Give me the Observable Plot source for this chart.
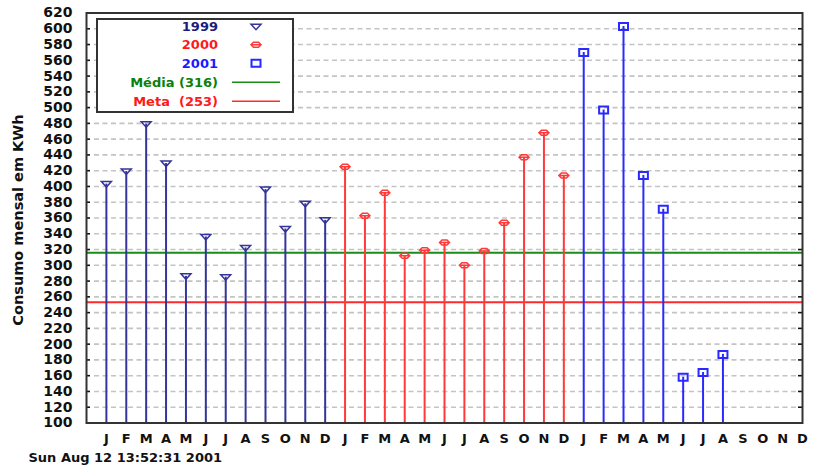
<!DOCTYPE html>
<html>
<head>
<meta charset="utf-8">
<script src="https://cdn.jsdelivr.net/npm/d3@7"></script>
<script src="https://cdn.jsdelivr.net/npm/@observablehq/plot@0.6"></script>
<style>
  html, body { margin: 0; padding: 0; background: #fff; }
  #chart { position: relative; width: 814px; height: 473px; }
  svg { font-family: "DejaVu Sans", sans-serif; }
</style>
</head>
<body>
<div id="chart"></div>
<script>
const months = ["J","F","M","A","M","J","J","A","S","O","N","D"];
const years = ["1999", "2000", "2001"];
const v1999 = [403, 419, 479, 429, 286, 336, 285, 322, 396, 346, 378, 357];
const v2000 = [425, 363, 392, 312, 319, 329, 300, 318, 354, 437, 468, 414];
const v2001 = [570, 497, 603, 414, 371, 158, 164, 187];
const media = 316;
const meta = 253;
const yTicks = d3.range(100, 621, 20);
const gridValues = d3.range(120, 601, 20);
const yTitle = "Consumo mensal em KWh";
const dateText = "Sun Aug 12 13:52:31 2001";
const legendLabels = ["1999", "2000", "2001", "Média (316)", "Meta  (253)"];

const colors = {"1999": "#34349a", "2000": "#ff3a3a", "2001": "#2a2aff"};
const textColors = ["#1c1c7c", "#ff1a1a", "#1a1aff", "#0a820a", "#ff1a1a"];
const mediaColor = "#1a8c1a";
const metaColor = "#ff2a2a";

const symTri = {draw(ctx) { ctx.moveTo(-5, -2.5); ctx.lineTo(5, -2.5); ctx.lineTo(0, 3); ctx.closePath(); }};
const symDia = {draw(ctx) { ctx.moveTo(-5, 0); ctx.lineTo(-2.5, -2.5); ctx.lineTo(2.5, -2.5); ctx.lineTo(5, 0); ctx.lineTo(2.5, 2.5); ctx.lineTo(-2.5, 2.5); ctx.closePath(); ctx.moveTo(-5, 0); ctx.lineTo(5, 0); }};
const symSq = {draw(ctx) { ctx.moveTo(-4.5, -3.5); ctx.lineTo(4.5, -3.5); ctx.lineTo(4.5, 3.5); ctx.lineTo(-4.5, 3.5); ctx.closePath(); }};
const symbols = {"1999": symTri, "2000": symDia, "2001": symSq};

const data = [];
[v1999, v2000, v2001].forEach((arr, k) => {
  arr.forEach((v, m) => data.push({i: k * 12 + m, value: v, year: years[k]}));
});

const plot = Plot.plot({
  width: 814,
  height: 473,
  marginLeft: 86,
  marginRight: 12,
  marginTop: 12.5,
  marginBottom: 50.5,
  style: {fontFamily: "DejaVu Sans, sans-serif", background: "#fff"},
  x: {domain: [-1, 35], axis: null},
  y: {domain: [100, 620], axis: null},
  marks: [
    Plot.ruleY(gridValues, {stroke: "#c4c4c4", strokeWidth: 1.6, strokeDasharray: "5,3.5", insetLeft: 8, insetRight: 6}),
    Plot.ruleY([media], {stroke: mediaColor, strokeWidth: 2}),
    Plot.ruleY([meta], {stroke: metaColor, strokeWidth: 2}),
    Plot.ruleX(data, {x: "i", y1: 100, y2: "value", stroke: d => colors[d.year], strokeWidth: 2}),
    ...years.map(yr => Plot.dot(data.filter(d => d.year === yr), {
      x: "i", y: "value", symbol: symbols[yr], stroke: colors[yr], fill: "#fff", fillOpacity: 0,
      strokeWidth: yr === "2001" ? 2 : 1.5
    })),
    Plot.ruleY(yTicks, {x1: -1, x2: -0.8, stroke: "#111", strokeWidth: 1.6}),
    Plot.ruleY(yTicks, {x1: 34.8, x2: 35, stroke: "#111", strokeWidth: 1.6}),
    Plot.axisY({ticks: yTicks, anchor: "left", tickSize: 0, tickPadding: 14, fontSize: 14, fontWeight: "bold", fill: "#111", label: null}),
    Plot.axisX({ticks: d3.range(0, 36), anchor: "bottom", tickSize: 0, tickPadding: 11, fontSize: 13, fontWeight: "bold", fill: "#111", label: null, tickFormat: i => months[i % 12]}),
    Plot.text([yTitle], {frameAnchor: "left", dx: -68, dy: 2, rotate: -90, textAnchor: "middle", fontSize: 14.5, fontWeight: "bold", fill: "#111"}),
    Plot.text([dateText], {frameAnchor: "bottom-left", dx: -58, dy: 38.5, textAnchor: "start", fontSize: 13, fontWeight: "bold", fill: "#111"}),
    Plot.frame({stroke: "#333", strokeWidth: 2})
  ]
});

document.getElementById("chart").appendChild(plot);

// Legend box
const svg = d3.select(plot);
const lg = svg.append("g");
lg.append("rect").attr("x", 97).attr("y", 19).attr("width", 196).attr("height", 93)
  .attr("fill", "#fff").attr("stroke", "#333").attr("stroke-width", 2);
const rowY = [26.7, 44.8, 63.3, 82.3, 101.2];
legendLabels.forEach((lab, k) => {
  lg.append("text").attr("x", 218).attr("y", rowY[k]).attr("dy", "0.36em")
    .attr("text-anchor", "end").attr("font-size", 13).attr("font-weight", "bold")
    .attr("fill", textColors[k]).style("white-space", "pre").attr("xml:space", "preserve").text(lab);
  if (k < 3) {
    const p = d3.path();
    symbols[years[k]].draw(p);
    lg.append("path").attr("d", p.toString()).attr("transform", `translate(256,${rowY[k]})`)
      .attr("fill", "none").attr("stroke", colors[years[k]]).attr("stroke-width", k === 2 ? 2 : 1.5);
  } else {
    lg.append("line").attr("x1", 232).attr("x2", 280).attr("y1", rowY[k]).attr("y2", rowY[k])
      .attr("stroke", k === 3 ? mediaColor : metaColor).attr("stroke-width", 1.5);
  }
});
</script>
</body>
</html>
